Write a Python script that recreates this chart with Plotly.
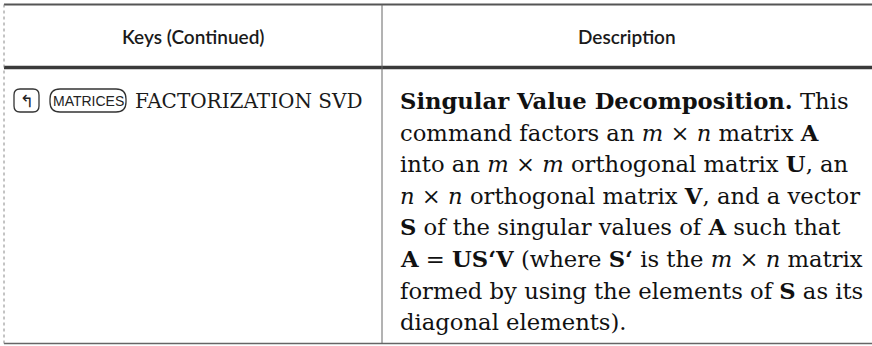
import plotly.graph_objects as go

W, H = 872, 346

header_labels = ["Keys (Continued)", "Description"]
key_shift = "↰"
key_menu = "MATRICES"
key_command = "FACTORIZATION SVD"
description_lines = [
    "<b>Singular Value Decomposition.</b> This",
    "command factors an <i>m</i> × <i>n</i> matrix <b>A</b>",
    "into an <i>m</i> × <i>m</i> orthogonal matrix <b>U</b>, an",
    "<i>n</i> × <i>n</i> orthogonal matrix <b>V</b>, and a vector",
    "<b>S</b> of the singular values of <b>A</b> such that",
    "<b>A</b> = <b>US‘V</b> (where <b>S‘</b> is the <i>m</i> × <i>n</i> matrix",
    "formed by using the elements of <b>S</b> as its",
    "diagonal elements).",
]

# layout geometry
left_x, div_x, right_x = 4, 382, 872
top_y, head_y, bot_y = 4.5, 67.5, 343.5
line0_y, line_step = 101, 31.6
desc_x = 398

fig = go.Figure()
fig.update_xaxes(range=[0, W], visible=False, fixedrange=True)
fig.update_yaxes(range=[H, 0], visible=False, fixedrange=True)


def rrect(x0, y0, x1, y1, r):
    return (f"M{x0+r},{y0} L{x1-r},{y0} Q{x1},{y0} {x1},{y0+r} "
            f"L{x1},{y1-r} Q{x1},{y1} {x1-r},{y1} L{x0+r},{y1} "
            f"Q{x0},{y1} {x0},{y1-r} L{x0},{y0+r} Q{x0},{y0} {x0+r},{y0} Z")


shapes = [
    dict(type="line", x0=left_x, x1=right_x, y0=top_y, y1=top_y,
         line=dict(color="#555555", width=2)),
    dict(type="line", x0=left_x, x1=right_x, y0=head_y, y1=head_y,
         line=dict(color="#3a3a3a", width=3.5)),
    dict(type="line", x0=left_x, x1=right_x, y0=bot_y, y1=bot_y,
         line=dict(color="#666666", width=1.5)),
    dict(type="line", x0=left_x, x1=left_x, y0=top_y, y1=bot_y,
         line=dict(color="#888888", width=1, dash="dot")),
    dict(type="line", x0=div_x, x1=div_x, y0=top_y, y1=bot_y,
         line=dict(color="#666666", width=1)),
    dict(type="path", path=rrect(14, 89, 39, 112, 6),
         line=dict(color="#333333", width=1.3)),
    dict(type="path", path=rrect(50, 89, 126, 112, 10),
         line=dict(color="#333333", width=1.3)),
]
for s in shapes:
    s.update(xref="x", yref="y", layer="above")

ann = []
hfont = dict(family="Lato, Open Sans, sans-serif", size=19, color="#1a1a1a", weight=600)
ann.append(dict(x=(left_x + div_x) / 2, y=36, text=header_labels[0], font=hfont,
                xanchor="center", yanchor="middle", showarrow=False))
ann.append(dict(x=(div_x + right_x) / 2, y=36, text=header_labels[1], font=hfont,
                xanchor="center", yanchor="middle", showarrow=False))

ann.append(dict(x=26.5, y=100.5, text=key_shift,
                font=dict(family="DejaVu Sans", size=17, color="#222"),
                xanchor="center", yanchor="middle", showarrow=False))
ann.append(dict(x=88, y=101, text=key_menu,
                font=dict(family="Liberation Sans Narrow, Arial Narrow, sans-serif",
                          size=14, color="#222"),
                xanchor="center", yanchor="middle", showarrow=False))
ann.append(dict(x=133, y=line0_y, text=key_command,
                font=dict(family="DejaVu Serif", size=20, color="#1a1a1a"),
                xanchor="left", yanchor="middle", showarrow=False))

bfont = dict(family="DejaVu Serif", size=22.7, color="#111111")
for i, t in enumerate(description_lines):
    ann.append(dict(x=desc_x, y=line0_y + i * line_step, text=t, font=bfont,
                    xanchor="left", yanchor="middle", showarrow=False))

for a in ann:
    a.update(xref="x", yref="y")

fig.update_layout(width=W, height=H, margin=dict(l=0, r=0, t=0, b=0),
                  paper_bgcolor="white", plot_bgcolor="white",
                  shapes=shapes, annotations=ann, showlegend=False)
fig.write_html("out.html", config={"displayModeBar": False},
               post_script="document.body.style.margin='0';document.body.style.overflow='hidden';")
